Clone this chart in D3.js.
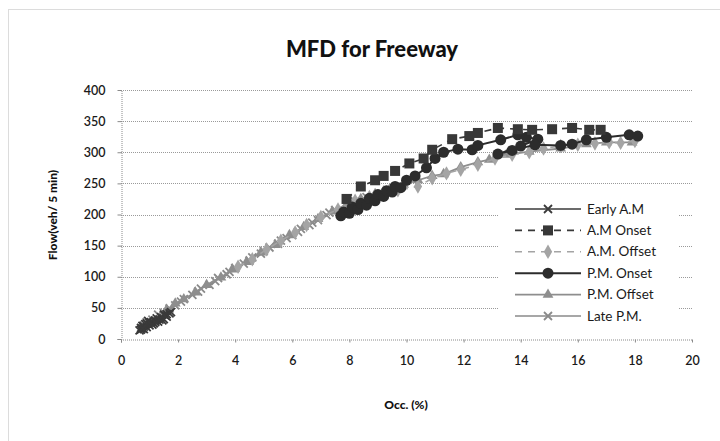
<!DOCTYPE html>
<html>
<head>
<meta charset="utf-8">
<script src="https://cdn.jsdelivr.net/npm/d3@7"></script>
<style>
  html, body { margin: 0; padding: 0; background: #fff; }
  svg { display: block; }
  text { font-family: Lato, "Open Sans", sans-serif; }
</style>
</head>
<body>
<svg id="chart" width="720" height="441"></svg>
<script>
// ---------------- data ----------------
const chartTitle = "MFD for Freeway";
const xTitle = "Occ. (%)";
const yTitle = "Flow(veh/ 5 min)";
const xTicks = [0, 2, 4, 6, 8, 10, 12, 14, 16, 18, 20];
const yTicks = [0, 50, 100, 150, 200, 250, 300, 350, 400];
const seriesNames = ["Early A.M", "A.M Onset", "A.M. Offset", "P.M. Onset", "P.M. Offset", "Late P.M."];

const earlyAM = [[0.65,14],[0.7,18],[0.8,16],[0.75,21],[0.9,19],[0.85,24],[1.0,22],[1.05,27],[0.95,29],[1.15,25],[1.2,30],[1.3,28],[1.25,33],[1.4,35],[1.5,32],[1.55,38],[1.7,41],[1.6,36],[1.45,30],[1.1,23],[0.8,20],[0.7,15],[0.9,25],[1.2,27],[1.35,31],[1.0,26],[0.75,17],[1.6,40],[1.75,43],[1.5,39]];
const amOnset = [[7.9,225],[8.4,245],[8.9,255],[9.2,262],[9.6,270],[10.1,282],[10.6,290],[10.9,304],[11.6,321],[12.2,326],[12.5,331],[13.2,339],[13.9,337],[14.4,336],[15.1,337],[15.8,339],[16.4,336],[16.8,336]];
const amOffset = [[18.0,318],[17.5,315],[17.1,316],[16.6,314],[16.0,312],[15.4,310],[14.8,306],[14.3,300],[13.7,296],[13.1,290],[12.5,280],[11.9,272],[11.4,266],[10.9,258],[10.4,245],[9.7,239],[9.2,236],[8.7,228],[8.2,222],[7.6,208],[7.0,196],[6.5,183],[6.1,171],[5.6,158],[5.1,144],[4.6,128],[4.1,116]];
const pmOnset = [[7.7,198],[7.8,204],[8.0,202],[8.1,212],[8.3,208],[8.4,218],[8.6,215],[8.7,226],[8.9,222],[9.0,232],[9.2,229],[9.3,238],[9.5,236],[9.6,245],[9.8,243],[10.0,255],[10.3,262],[10.7,275],[11.0,290],[11.3,300],[11.8,305],[12.3,304],[12.5,311],[13.3,320],[13.9,328],[14.2,324],[14.6,321],[14.0,310],[13.2,297],[13.7,303],[14.5,312],[15.4,311],[15.8,313],[16.3,320],[17.0,324],[17.8,328],[18.1,326]];
const pmOffset = [[17.9,316],[17.0,316],[16.3,313],[15.4,306],[14.3,301],[13.5,296],[12.9,288],[12.5,284],[11.9,276],[11.3,265],[10.9,262],[10.4,255],[9.9,248],[9.4,240],[8.9,233],[8.4,225],[7.9,216],[7.4,205],[6.9,193],[6.4,180],[5.9,167],[5.4,151],[4.9,139],[4.4,124],[3.9,112],[3.5,99],[3.0,87],[2.6,75],[2.2,64],[1.9,57],[1.6,47]];
const latePM = [[8.6,228],[8.2,221],[7.9,215],[7.5,207],[7.3,203],[7.2,199],[6.9,191],[6.7,187],[6.6,183],[6.3,177],[6.2,172],[6.0,167],[5.8,162],[5.6,158],[5.5,153],[5.2,147],[5.0,141],[4.9,137],[4.6,131],[4.5,126],[4.3,121],[4.0,114],[3.8,108],[3.7,104],[3.4,98],[3.3,93],[3.1,87],[2.8,81],[2.7,76],[2.5,71],[2.2,64],[2.1,60],[1.9,54],[1.7,49],[1.5,42],[1.3,39],[1.1,31],[0.9,27],[0.8,22]];

const seriesData = [earlyAM, amOnset, amOffset, pmOnset, pmOffset, latePM];

// ---------------- styles ----------------
const styles = [
  {color: "#3a3a3a", width: 1.6, dash: null,  marker: "x"},
  {color: "#383838", width: 1.6, dash: "7,6", marker: "square"},
  {color: "#a4a4a4", width: 1.6, dash: "7,6", marker: "diamond"},
  {color: "#2c2c2c", width: 2.0, dash: null,  marker: "circle"},
  {color: "#8e8e8e", width: 1.8, dash: null,  marker: "triangle"},
  {color: "#8a8a8a", width: 1.3, dash: null,  marker: "x"}
];

const svg = d3.select("#chart");

// outer chart border
svg.append("rect").attr("x", 8.5).attr("y", 9.5).attr("width", 720).attr("height", 440)
  .attr("fill", "none").attr("stroke", "#b8b8b8").attr("stroke-dasharray", "1,1");

const x = d3.scaleLinear().domain([0, 20]).range([121, 692]);
const y = d3.scaleLinear().domain([0, 400]).range([339, 90]);

// gridlines
svg.append("g").selectAll("line").data(yTicks.filter(d => d > 0)).join("line")
  .attr("x1", x(0)).attr("x2", x(20))
  .attr("y1", d => Math.round(y(d)) + 0.5).attr("y2", d => Math.round(y(d)) + 0.5)
  .attr("stroke", "#9a9a9a").attr("stroke-width", 1).attr("stroke-dasharray", "1,1");

// axes
const xAxis = d3.axisBottom(x).tickValues(xTicks).tickSize(3).tickPadding(14).tickFormat(d3.format("d"));
const yAxis = d3.axisLeft(y).tickValues(yTicks).tickSize(4).tickPadding(12).tickFormat(d3.format("d"));

const gx = svg.append("g").attr("transform", `translate(0,${Math.round(y(0)) + 0.5})`).call(xAxis);
const gy = svg.append("g").attr("transform", `translate(${Math.round(x(0)) + 0.5},0)`).call(yAxis);
[gx, gy].forEach(g => {
  g.select(".domain").attr("stroke", "#8a8a8a").attr("stroke-dasharray", "1,1");
  g.selectAll(".tick line").attr("stroke", "#8a8a8a");
  g.selectAll(".tick text").attr("fill", "#1a1a1a").attr("font-size", 12.5)
    .attr("font-weight", 600).attr("font-family", "Lato, sans-serif");
});

// marker drawing
function drawMarker(g, type, cx, cy, color, scale) {
  const s = scale || 1;
  if (type === "square") {
    g.append("rect").attr("x", cx - 5*s).attr("y", cy - 5*s).attr("width", 10*s).attr("height", 10*s).attr("fill", color);
  } else if (type === "circle") {
    g.append("circle").attr("cx", cx).attr("cy", cy).attr("r", 5.5*s).attr("fill", color);
  } else if (type === "diamond") {
    g.append("path").attr("d", d3.symbol(d3.symbolDiamond, 60*s*s)()).attr("transform", `translate(${cx},${cy})`).attr("fill", color);
  } else if (type === "triangle") {
    g.append("path").attr("d", d3.symbol(d3.symbolTriangle, 50*s*s)()).attr("transform", `translate(${cx},${cy})`).attr("fill", color);
  } else if (type === "x") {
    const r = 4*s;
    g.append("path").attr("d", `M${cx-r},${cy-r}L${cx+r},${cy+r}M${cx-r},${cy+r}L${cx+r},${cy-r}`)
      .attr("stroke", color).attr("stroke-width", 1.8).attr("fill", "none");
  }
}

const line = d3.line().x(d => x(d[0])).y(d => y(d[1]));

// draw order: light series underneath, dark on top
const order = [5, 4, 2, 0, 3, 1];
order.forEach(i => {
  const data = seriesData[i];
  const st = styles[i];
  const g = svg.append("g");
  g.append("path").datum(data).attr("d", line).attr("fill", "none")
    .attr("stroke", st.color).attr("stroke-width", st.width)
    .attr("stroke-dasharray", st.dash);
  data.forEach(d => drawMarker(g, st.marker, x(d[0]), y(d[1]), st.color, 1));
});

// legend
const lg = svg.append("g");
lg.append("rect").attr("x", 498).attr("y", 192).attr("width", 180).attr("height", 134).attr("fill", "#fff");
seriesNames.forEach((name, i) => {
  const st = styles[i];
  const ly = 209 + i * 21.4;
  lg.append("line").attr("x1", 515).attr("x2", 581).attr("y1", ly).attr("y2", ly)
    .attr("stroke", st.color).attr("stroke-width", st.width).attr("stroke-dasharray", st.dash);
  drawMarker(lg, st.marker, 548, ly, st.color, 1);
  lg.append("text").attr("x", 587).attr("y", ly + 4.5).attr("font-size", 13.5).attr("fill", "#1a1a1a").text(name);
});

// titles
svg.append("text").attr("x", 372).attr("y", 57).attr("text-anchor", "middle")
  .attr("font-size", 22).attr("font-weight", 900).attr("fill", "#111").text(chartTitle);
svg.append("text").attr("x", 406).attr("y", 409).attr("text-anchor", "middle")
  .attr("font-size", 12).attr("font-weight", 900).attr("fill", "#111").text(xTitle);
svg.append("text").attr("transform", "translate(57,215) rotate(-90)").attr("text-anchor", "middle")
  .attr("font-size", 12).attr("font-weight", 900).attr("fill", "#111").text(yTitle);
</script>
</body>
</html>
